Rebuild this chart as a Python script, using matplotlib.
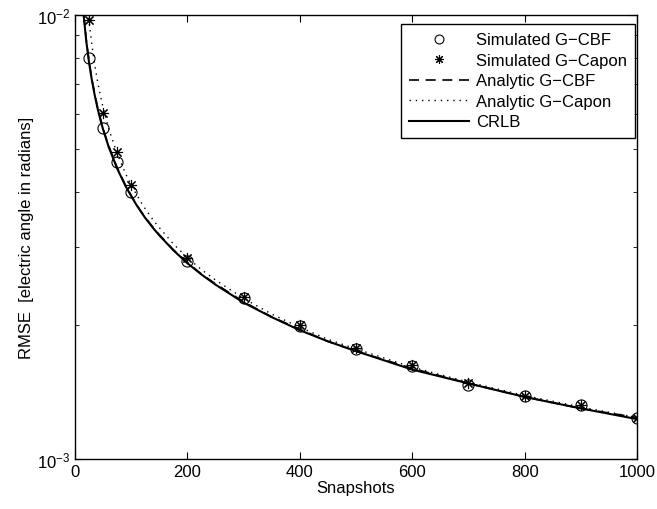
import numpy as np
import matplotlib
matplotlib.use("Agg")
import matplotlib.pyplot as plt
from matplotlib.ticker import LogLocator, NullFormatter

plt.rcParams['font.family'] = ['Liberation Sans', 'DejaVu Sans']
plt.rcParams['font.size'] = 12

# analytic curves
n_curve = [10, 12, 15, 20, 25, 30, 35, 40, 45, 50, 60, 75, 90, 100, 110, 120,
           125, 140, 150, 175, 200, 225, 250, 300, 350, 400, 450, 500, 600,
           700, 800, 900, 1000]
crlb = [0.01235, 0.01127, 0.01008, 0.00873, 0.00781, 0.00713, 0.00660, 0.00617,
        0.00582, 0.00552, 0.00504, 0.00451, 0.004116, 0.00391, 0.003723,
        0.003565, 0.00349, 0.00330, 0.00319, 0.002952, 0.00276, 0.002603,
        0.00247, 0.00225, 0.002087, 0.00195, 0.001841, 0.00175, 0.00159,
        0.00148, 0.00138, 0.00130, 0.00123]
analytic_cbf = [0.01250, 0.01140, 0.01018, 0.00880, 0.00787, 0.00718, 0.00665,
                0.00621, 0.00586, 0.00555, 0.00507, 0.00453, 0.00413, 0.00392,
                0.00373, 0.00357, 0.00350, 0.00331, 0.00320, 0.00296, 0.00277,
                0.00261, 0.00248, 0.00226, 0.00209, 0.00196, 0.00184, 0.00175,
                0.00160, 0.00148, 0.00138, 0.00130, 0.00124]
analytic_capon = [0.0198, 0.0169, 0.0141, 0.01135, 0.00968, 0.00856, 0.00773,
                  0.00710, 0.00660, 0.00618, 0.00554, 0.00487, 0.00439, 0.00414,
                  0.00393, 0.00374, 0.00366, 0.00344, 0.00332, 0.00305, 0.00284,
                  0.00267, 0.00253, 0.00230, 0.00212, 0.00198, 0.00186, 0.00177,
                  0.00161, 0.00149, 0.00139, 0.00131, 0.00124]

# simulated points
n_sim = [25, 50, 75, 100, 200, 300, 400, 500, 600, 700, 800, 900, 1000]
sim_cbf = [0.00799, 0.00558, 0.00466, 0.00399, 0.00279, 0.00230, 0.00199,
           0.00177, 0.00162, 0.00147, 0.00139, 0.00132, 0.001235]
sim_capon = [0.00976, 0.00602, 0.00491, 0.00414, 0.00283, 0.00232, 0.00200,
             0.00178, 0.00163, 0.00148, 0.00139, 0.00132, 0.00124]

fig = plt.figure(figsize=(6.57, 5.10), dpi=100)
ax = fig.add_axes([0.1142, 0.098, 0.8554, 0.8706])

ax.semilogy(n_sim, sim_cbf, 'o', mfc='none', mec='k', ms=8, mew=0.8,
            label='Simulated G\u2212CBF')
ax.semilogy(n_sim, sim_capon, ls='none', marker=(8, 2, 0), color='k', ms=8,
            mew=0.8, label='Simulated G\u2212Capon')
ax.semilogy(n_curve, analytic_cbf, 'k', ls=(0, (6, 4)), lw=1.2,
            label='Analytic G\u2212CBF')
ax.semilogy(n_curve, analytic_capon, 'k', ls=(0, (1, 3.5)), lw=1.0,
            label='Analytic G\u2212Capon')
ax.semilogy(n_curve, crlb, 'k-', lw=1.5, label='CRLB')

ax.set_xlim(0, 1000)
ax.set_ylim(1e-3, 1e-2)
ax.set_xticks([0, 200, 400, 600, 800, 1000])
ax.yaxis.set_major_locator(LogLocator(base=10))
ax.yaxis.set_minor_locator(LogLocator(base=10, subs=np.arange(2, 10)))
ax.yaxis.set_minor_formatter(NullFormatter())
ax.tick_params(which='both', direction='in', top=True, right=True)
ax.tick_params(which='major', length=5)
ax.tick_params(which='minor', length=3)
for s in ax.spines.values():
    s.set_linewidth(1.0)

ax.set_xlabel('Snapshots', labelpad=1)
ax.set_ylabel('RMSE  [electric angle in radians]', labelpad=2)

leg = ax.legend(loc='upper right', bbox_to_anchor=(0.9964, 0.9797),
                borderaxespad=0, fancybox=False, framealpha=1,
                edgecolor='k', handlelength=3.6, labelspacing=0.33,
                handletextpad=0.4, borderpad=0.5, markerscale=0.8)
leg.get_frame().set_linewidth(1.0)

fig.savefig('out.png', dpi=100)
